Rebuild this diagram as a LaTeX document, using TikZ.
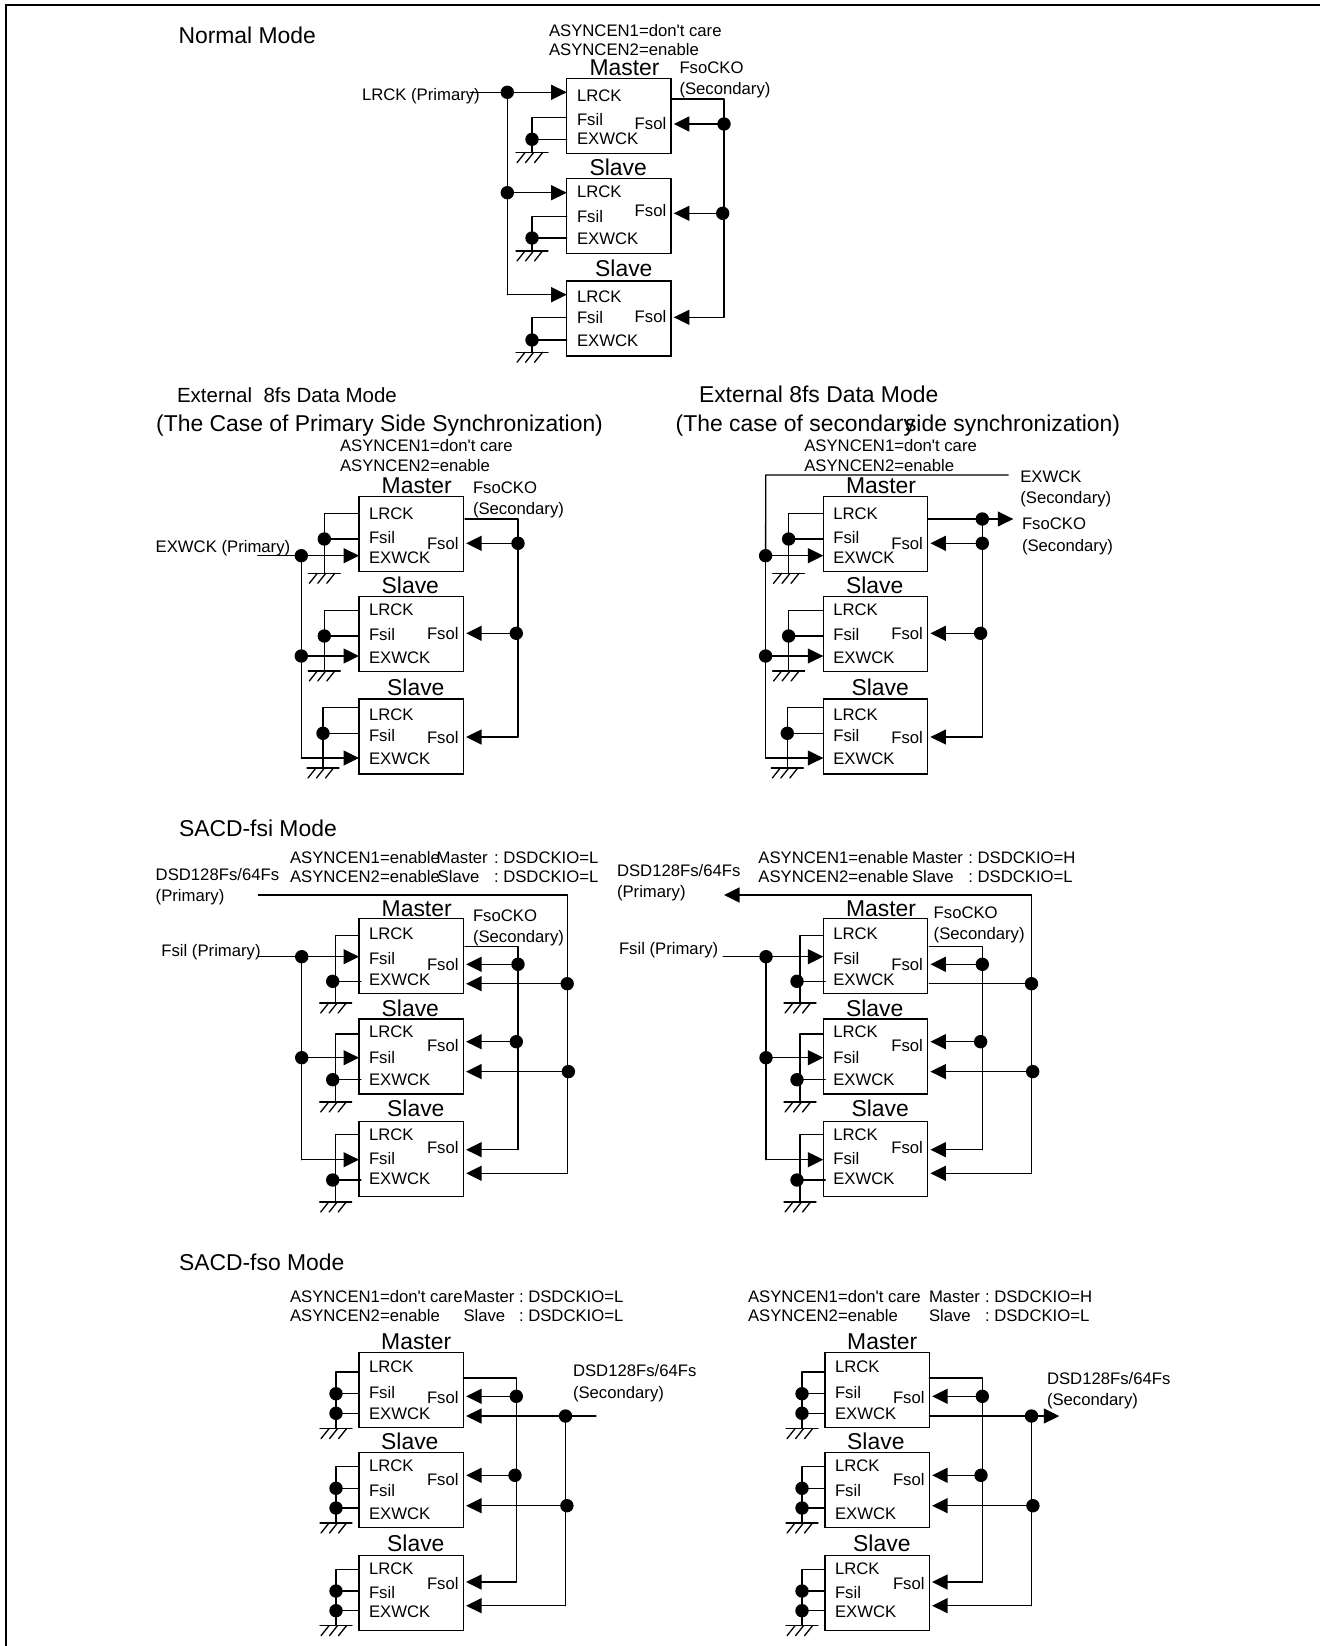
\documentclass[tikz,border=0pt]{standalone}
\usepackage{fontspec}
\setmainfont{Liberation Sans}
\usetikzlibrary{arrows.meta,calc}
\newcounter{lb}
\frenchspacing
\tikzset{
  cn/.style={line width=1.3pt,line cap=round,line join=round},
  ar/.style={cn,-{Triangle[length=15.5pt,width=15pt]}},
  gp/.style={shorten >=2.8pt},
  blk/.style={draw,line width=1.4pt,rectangle,inner sep=0pt,outer sep=0pt,minimum width=104.3pt,minimum height=75pt,anchor=north west},
  jd/.style={circle,fill=black,inner sep=0pt,outer sep=0pt,minimum size=13.4pt},
  sl/.style={inner sep=0pt,outer sep=0pt,anchor=base west,yshift=-0.5pt,font=\fontsize{16.7}{18}\selectfont},
  bg/.style={inner sep=0pt,outer sep=0pt,anchor=base west,yshift=-0.7pt,font=\fontsize{22.9}{24}\selectfont}
}
\newcommand{\stx}[3]{\stepcounter{lb}\node[sl] (t\arabic{lb}) at (#1,#2) {#3};}
\newcommand{\btx}[3]{\stepcounter{lb}\node[bg] (t\arabic{lb}) at (#1,#2) {#3};}
\newcommand{\bx}[3]{\node[blk] (#1) at (#2,#3) {};}
\newcommand{\jn}[3]{\node[jd] (#1) at (#2,#3) {};}
\newcommand{\pinl}[6]{\stx{#1}{#3}{LRCK}\stx{#1}{#4}{Fsil}\stx{#1}{#5}{EXWCK}\stx{#2}{#6}{Fsol}}
% ground symbol
\newcommand{\gnd}[1]{%
  \draw[cn] ([xshift=-16pt]#1) -- ([xshift=16pt]#1);
  \draw[cn] ([xshift=-7pt]#1) -- ++(-8,10);
  \draw[cn] ([xshift=1.5pt]#1) -- ++(-8,10);
  \draw[cn] ([xshift=10.5pt]#1) -- ++(-8,10);}
% tied inputs: name, box, stem x, upper y, dot x, dot y, ground y
\def\tieover{0pt}
\newcommand{\tie}[7]{%
  \coordinate (#1u) at (#3,#4);
  \coordinate (#1g) at (#3,#7);
  \jn{#1d}{#5}{#6}
  \draw[cn] (#2.west |- #1u) -- (#1u) -- (#1g);
  \draw[cn] (#1d.center) -- ([xshift=\tieover]#2.west |- #1d.center);
  \gnd{#1g}}
\newcommand{\tiex}[4]{% extra dot: name, box, x, y
  \jn{#1}{#3}{#4}
  \draw[cn] (#1.center) -- (#2.west |- #1.center);}
% FsoI bus
\def\fsogap{0pt}
\newcommand{\fsobus}[9]{% p, b1,b2,b3, x, yo, y1, x2, y2 ; y3 read from \busend
  \coordinate (#1O) at (#5,#6);
  \jn{#1A}{#5}{#7}
  \jn{#1B}{#8}{#9}
  \coordinate (#1C) at (#5,\busend);
  \draw[cn,shorten <=\fsogap] (#2.east |- #1O) -- (#1O) -- (#1C);
  \draw[ar,gp] (#1A.center) -- (#2.east |- #1A.center);
  \draw[ar,gp] (#1B.center) -- (#3.east |- #1B.center);
  \draw[ar,gp] (#1C) -- (#4.east |- #1C);}
% left input bus
\newcommand{\inbus}[7]{% p, b1,b2,b3, x, y1, y2 ; y3 \busend
  \jn{#1A}{#5}{#6}
  \jn{#1B}{#5}{#7}
  \coordinate (#1C) at (#5,\busend);
  \draw[cn] (#1A.center) -- (#1C);
  \draw[ar] (#1A.center) -- (#2.west |- #1A.center);
  \draw[ar] (#1B.center) -- (#3.west |- #1B.center);
  \draw[ar] (#1C) -- (#4.west |- #1C);}
% External 8fs shared part
\newcommand{\extcore}{%
  \bx{m}{359}{496.3}\bx{s}{359}{596.3}\bx{r}{359}{699}
  \def\busend{758}\inbus{e}{m}{s}{r}{301.3}{555.7}{656}
  \tie{ta}{m}{324.3}{513.3}{324.3}{539}{573.3}
  \tie{tb}{s}{324.3}{610.7}{324.3}{636}{671}
  \tie{tc}{r}{323}{707.7}{323}{733.3}{768}
  \def\busend{737}\def\fsogap{1.7pt}\fsobus{f}{m}{s}{r}{518}{519}{543.3}{516.3}{633.3}
  \btx{381.7}{492.7}{Master}\btx{381.7}{592.7}{Slave}\btx{387.2}{694.3}{Slave}
  \pinl{369}{427}{518.7}{543}{563}{549}
  \pinl{369}{427}{615}{640}{663}{639}
  \pinl{369}{427}{719.7}{741}{764}{743}
  \stx{340}{451}{ASYNCEN1=don\textquotesingle t care}
  \stx{340}{471}{ASYNCEN2=enable}}
% SACD-fsi shared part
\newcommand{\fsicore}{%
  \bx{m}{359}{918.7}\bx{s}{359}{1019}\bx{r}{359}{1121.7}
  \def\busend{1159.7}\inbus{e}{m}{s}{r}{301.7}{956.7}{1057.7}
  \def\tieover{2pt}
  \tie{ta}{m}{335.7}{935.7}{332.7}{981.3}{1003}
  \tie{tb}{s}{335.7}{1034}{332.7}{1079.7}{1102}
  \tie{tc}{r}{335.7}{1134.3}{332.7}{1180}{1202}
  \def\tieover{0pt}
  \def\busend{1149.7}\def\fsogap{1.7pt}\fsobus{f}{m}{s}{r}{518}{946.7}{964.3}{516.3}{1041.7}
  \coordinate (bt) at (567.2,895);
  \coordinate (bb) at (567.2,1173.3);
  \draw[cn] (bt) -- (bb);
  \jn{da}{567.2}{983.7}\jn{db}{568.4}{1071.6}
  \draw[ar,gp] (db.center) -- (s.east |- db.center);
  \draw[ar,gp] (bb) -- (r.east |- bb);
  \btx{381.7}{915.7}{Master}\btx{381.7}{1015.7}{Slave}\btx{387.2}{1116}{Slave}
  \pinl{369}{427}{938.7}{963.7}{985}{970}
  \pinl{369}{427}{1037.3}{1063}{1084.7}{1050.7}
  \pinl{369}{427}{1140}{1164}{1184}{1152.7}}
% SACD-fso shared part
\newcommand{\fsocore}{%
  \bx{m}{359}{1352.3}\bx{s}{359}{1452.3}\bx{r}{359}{1555.3}
  \tie{ta}{m}{336}{1372}{336}{1393.7}{1428.7}\tiex{tax}{m}{336}{1413.3}
  \tie{tb}{s}{336}{1466.3}{336}{1488.3}{1523}\tiex{tbx}{s}{336}{1508}
  \tie{tc}{r}{336}{1569.3}{336}{1591}{1625.7}\tiex{tcx}{r}{336}{1610.7}
  \def\busend{1582}\def\fsogap{0pt}\fsobus{f}{m}{s}{r}{516.3}{1378}{1396.3}{515}{1475.3}
  \jn{da}{565.5}{1416}\jn{db}{566.9}{1505.7}
  \coordinate (bb) at (565.5,1605.7);
  \draw[cn] (da.center) -- (bb);
  \draw[ar,gp] (db.center) -- (s.east |- db.center);
  \draw[ar,gp] (bb) -- (r.east |- bb);
  \btx{381.2}{1349}{Master}\btx{381.2}{1449}{Slave}\btx{387.2}{1550.7}{Slave}
  \pinl{369}{427}{1372}{1398}{1418.7}{1403}
  \pinl{369}{427}{1471.3}{1496}{1518.7}{1485}
  \pinl{369}{427}{1574}{1598}{1617}{1589}}
\begin{document}
\begin{tikzpicture}[x=1pt,y=-1pt]
\useasboundingbox (0,0) rectangle (1320,1646);
% frame
\coordinate (fa) at (6,1646);\coordinate (fb) at (6,5);\coordinate (fc) at (1320,5);
\draw[line width=2pt] (fa) -- (fb) -- (fc);

% ---------- Normal mode
\begin{scope}[name prefix=n-]
\btx{178.5}{43.3}{Normal Mode}
\stx{549}{35.7}{ASYNCEN1=don\textquotesingle t care}
\stx{549}{55}{ASYNCEN2=enable}
\bx{m}{566.7}{78.3}\bx{s}{566.7}{178.3}\bx{r}{566.7}{281}
\def\busend{294.7}\inbus{e}{m}{s}{r}{507.3}{92.3}{192.7}
\coordinate (ein) at (470,92.3);
\draw[cn] (ein) -- (eA.center);
\tie{ta}{m}{532}{117.3}{532}{139.3}{152.7}
\tie{tb}{s}{532}{216.7}{532}{238}{251}
\tie{tc}{r}{532}{317.7}{532}{340}{352.3}
\def\busend{317.3}\def\fsogap{0pt}\fsobus{f}{m}{s}{r}{724}{99}{124}{722.7}{213.3}
\btx{589.5}{74.3}{Master}\btx{589.5}{174.3}{Slave}\btx{595.2}{276}{Slave}
\pinl{577}{634.7}{100.7}{125}{143.7}{129.3}
\pinl{577}{634.7}{197}{221.7}{244.3}{216}
\pinl{577}{634.7}{301.7}{322.7}{346}{322}
\stx{679.5}{72.7}{FsoCKO}\stx{679.5}{94.3}{(Secondary)}
\stx{362}{100}{LRCK (Primary)}
\end{scope}

% ---------- External 8fs, primary
\begin{scope}[name prefix=a-]
\extcore
\stepcounter{lb}\node[bg,font=\fontsize{20.5}{22}\selectfont] (t\arabic{lb}) at (177,401.7) {External\ \ 8fs Data Mode};
\btx{156.2}{430.7}{(The Case of Primary Side Synchronization)}
\stx{473}{493.3}{FsoCKO}\stx{473}{514.3}{(Secondary)}
\stx{155.7}{552}{EXWCK (Primary)}
\coordinate (ein) at (257.7,555.7);
\draw[cn] (ein) -- (eA.center);
\end{scope}

% ---------- External 8fs, secondary
\begin{scope}[name prefix=b-,xshift=464.3pt]
\extcore
\coordinate (et) at (301.4,475);\coordinate (ee) at (544,475);
\draw[cn] (ee) -- (et) -- (eA.center);
\jn{fx}{518}{519}
\coordinate (fe) at (549,519);
\draw[ar] (m.east |- fe) -- (fe);
\draw[cn] (fx.center) -- (fA.center);
\end{scope}
\btx{699}{401.7}{External 8fs Data Mode}
\btx{675.7}{430.7}{(The case of secondary}
\btx{905}{430.7}{side synchronization)}
\stx{1020.3}{481.7}{EXWCK}\stx{1020.3}{503.3}{(Secondary)}
\stx{1022}{528.7}{FsoCKO}\stx{1022}{551.3}{(Secondary)}

% ---------- SACD-fsi, left
\begin{scope}[name prefix=c-]
\fsicore
\btx{179}{835.3}{SACD-fsi Mode}
\stx{290}{862.7}{ASYNCEN1=enable}\stx{436.7}{862.7}{Master}\stx{494}{862.7}{: DSDCKIO=L}
\stx{290}{882}{ASYNCEN2=enable}\stx{437.7}{882}{Slave}\stx{494}{882}{: DSDCKIO=L}
\stx{155.7}{880}{DSD128Fs/64Fs}\stx{155.7}{901}{(Primary)}
\stx{161.4}{955.7}{Fsil (Primary)}
\stx{473}{921}{FsoCKO}\stx{473}{942}{(Secondary)}
\coordinate (tin) at (258.3,895);
\draw[cn] (tin) -- (bt);
\coordinate (ein) at (258.3,956.7);
\draw[cn] (ein) -- (eA.center);
\draw[ar,gp] (da.center) -- (m.east |- da.center);
\end{scope}

% ---------- SACD-fsi, right
\begin{scope}[name prefix=d-,xshift=464.3pt]
\fsicore
\coordinate (tout) at (259.7,895);
\draw[ar] (bt) -- (tout);
\coordinate (ein) at (259,956.7);
\draw[cn] (ein) -- (eA.center);
\draw[cn,shorten <=1.7pt] (m.east |- da.center) -- (da.center);
\end{scope}
\stx{758.4}{862.7}{ASYNCEN1=enable}\stx{912}{862.7}{Master}\stx{968.3}{862.7}{: DSDCKIO=H}
\stx{758.4}{882}{ASYNCEN2=enable}\stx{912}{882}{Slave}\stx{968.3}{882}{: DSDCKIO=L}
\stx{617}{875.7}{DSD128Fs/64Fs}\stx{617}{897}{(Primary)}
\stx{619}{954}{Fsil (Primary)}
\stx{933.7}{918.3}{FsoCKO}\stx{933.7}{939.3}{(Secondary)}

% ---------- SACD-fso, left
\begin{scope}[name prefix=g-]
\fsocore
\btx{179}{1269.3}{SACD-fso Mode}
\stx{290}{1302.3}{ASYNCEN1=don\textquotesingle t care}\stx{463.5}{1302.3}{Master}\stx{519}{1302.3}{: DSDCKIO=L}
\stx{290}{1321}{ASYNCEN2=enable}\stx{463.5}{1321}{Slave}\stx{519}{1321}{: DSDCKIO=L}
\stx{573}{1376.3}{DSD128Fs/64Fs}\stx{573}{1398}{(Secondary)}
\coordinate (xe) at (596,1416);
\draw[ar,gp] (xe) -- (m.east |- xe);
\end{scope}

% ---------- SACD-fso, right
\begin{scope}[name prefix=h-,xshift=466pt]
\fsocore
\coordinate (xe) at (593.3,1416);
\draw[ar] (m.east |- xe) -- (xe);
\end{scope}
\stx{748}{1302.3}{ASYNCEN1=don\textquotesingle t care}\stx{929}{1302.3}{Master}\stx{985}{1302.3}{: DSDCKIO=H}
\stx{748}{1321}{ASYNCEN2=enable}\stx{929}{1321}{Slave}\stx{985}{1321}{: DSDCKIO=L}
\stx{1047}{1383.7}{DSD128Fs/64Fs}\stx{1047}{1405.3}{(Secondary)}
\end{tikzpicture}
\end{document}
